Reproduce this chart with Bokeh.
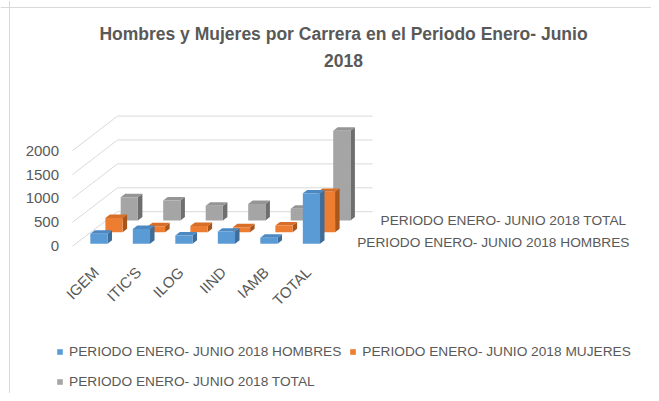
import numpy as np
from bokeh.plotting import figure
from bokeh.models import Range1d, Legend, LegendItem, Span
from bokeh.core.properties import value
from bokeh.embed import file_html
from bokeh.resources import INLINE

# ---------------- data ----------------
categories = ["IGEM", "ITIC'S", "ILOG", "IIND", "IAMB", "TOTAL"]
hombres = [210, 310, 175, 255, 125, 1055]
mujeres = [300, 125, 130, 105, 140, 845]
total = [485, 420, 310, 345, 245, 1880]
series_names = [
    "PERIODO ENERO- JUNIO 2018 HOMBRES",
    "PERIODO ENERO- JUNIO 2018 MUJERES",
    "PERIODO ENERO- JUNIO 2018 TOTAL",
]
y_ticks = [0, 500, 1000, 1500, 2000]
title_lines = ["Hombres y Mujeres por Carrera en el Periodo Enero- Junio", "2018"]

# ---------------- geometry / style ----------------
W, H = 651, 393
PX_CAT = 42.5          # px per category
PX_VAL = 0.0478        # px per value unit
ORIGIN_X = 72.0        # px x of front-left floor corner
ORIGIN_Y = 245.7       # px y of value 0 on front plane
DEPTH_X = 45.0 / PX_CAT
DEPTH_Y = 34.5 / PX_VAL
ROW_D = [0.07, 0.405, 0.745]
BAR_DEPTH = 0.1
BAR_L, BAR_R = 0.345, 0.75

FONT = "Liberation Sans"
TXT = "#595959"
GRID = "#d9d9d9"
front_cols = ["#5B9BD5", "#ED7D31", "#A5A5A5"]
top_cols = ["#4C89C2", "#D86E27", "#959595"]
side_cols = ["#3E6D9A", "#A9561D", "#6E6E6E"]


def dx(px):
    return (px - ORIGIN_X) / PX_CAT


def dy(py):
    return (ORIGIN_Y - py) / PX_VAL


p = figure(width=W, height=H, output_backend="svg", toolbar_location=None,
           x_axis_type=None, y_axis_type=None, min_border=0,
           x_range=Range1d(dx(0), dx(W)), y_range=Range1d(dy(H), dy(0)))
p.grid.visible = False
p.outline_line_color = None
p.background_fill_color = "white"
p.border_fill_color = "white"

# chart border (left, top)
p.add_layout(Span(location=dx(9), dimension="height", line_color=GRID, line_width=1))
p.add_layout(Span(location=dy(7), dimension="width", line_color=GRID, line_width=1))

# gridlines: left wall and back wall
n = len(categories)
gx, gy = [], []
for v in y_ticks:
    gx.append([0, DEPTH_X, n + DEPTH_X])
    gy.append([v, v + DEPTH_Y, v + DEPTH_Y])
p.multi_line(gx, gy, line_color=GRID, line_width=1)

# bars, back row first
series = [hombres, mujeres, total]
front_renderers = {}
bdx, bdy = BAR_DEPTH * DEPTH_X, BAR_DEPTH * DEPTH_Y
for r in [2, 1, 0]:
    vals = series[r]
    ox, oy = ROW_D[r] * DEPTH_X, ROW_D[r] * DEPTH_Y
    left = [i + BAR_L + ox for i in range(n)]
    right = [i + BAR_R + ox for i in range(n)]
    bottom = [oy] * n
    top = [oy + v for v in vals]
    sx = [[rr, rr + bdx, rr + bdx, rr] for rr in right]
    sy = [[b, b + bdy, t + bdy, t] for b, t in zip(bottom, top)]
    p.patches(sx, sy, fill_color=side_cols[r], line_color=None)
    tx = [[l, rr, rr + bdx, l + bdx] for l, rr in zip(left, right)]
    ty = [[t, t, t + bdy, t + bdy] for t in top]
    p.patches(tx, ty, fill_color=top_cols[r], line_color=None)
    front_renderers[r] = p.quad(left=left, right=right, bottom=bottom, top=top,
                                fill_color=front_cols[r], line_color=None)

# value axis labels
p.text(x=[dx(58.5)] * len(y_ticks), y=y_ticks, text=[str(t) for t in y_ticks],
       text_align="right", text_baseline="middle", text_font=value(FONT),
       text_font_size="15px", text_color=TXT)

# category labels (rotated)
p.text(x=[i + 0.55 for i in range(n)], y=[dy(269)] * n, text=categories,
       angle=np.pi / 4, text_align="right", text_baseline="middle",
       text_font=value(FONT), text_font_size="15px", text_color=TXT)

# depth axis labels (Excel shows only first and last)
shown = [0, 2]
p.text(x=[dx(356.7 + 11.65 * k) for k in shown], y=[dy(241.7 - 10.85 * k) for k in shown],
       text=[series_names[k] for k in shown], text_align="left", text_baseline="middle",
       text_font=value(FONT), text_font_size="13.7px", text_color=TXT)

# title
p.text(x=[dx(343)] * 2, y=[dy(33.5), dy(60)], text=title_lines,
       text_align="center", text_baseline="middle", text_font=value(FONT),
       text_font_size="17.5px", text_font_style="bold", text_color=TXT)

# legends
def make_legend(idx, loc):
    leg = Legend(items=[LegendItem(label=series_names[k], renderers=[front_renderers[k]]) for k in idx],
                 orientation="horizontal", location=loc)
    leg.label_text_font = FONT
    leg.label_text_font_size = "13.7px"
    leg.label_text_color = TXT
    leg.glyph_width = 7
    leg.glyph_height = 7
    leg.label_standoff = 6
    leg.spacing = 8
    leg.padding = 0
    leg.margin = 0
    leg.label_height = 18
    leg.border_line_color = None
    leg.background_fill_alpha = 0
    return leg

p.add_layout(make_legend([0, 1], (56, 32.7)))
p.add_layout(make_legend([2], (56, 2.7)))

open("out.html", "w").write(file_html(p, INLINE))
